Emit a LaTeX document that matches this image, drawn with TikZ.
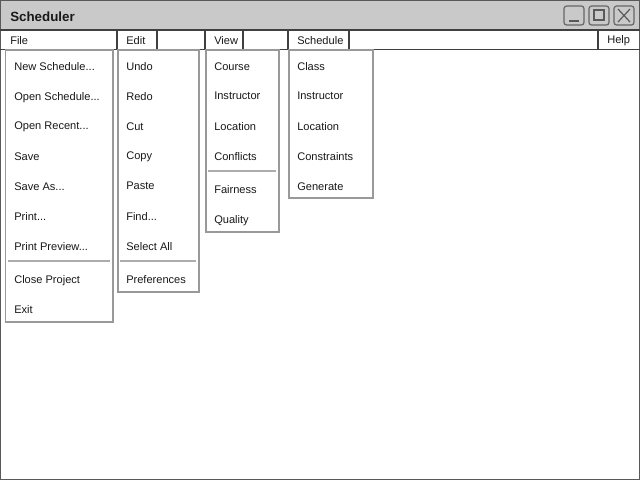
\documentclass[tikz,border=0pt]{standalone}
\usepackage{fontspec}
\setmainfont{Liberation Sans}
\begin{document}
\begin{tikzpicture}[x=0.75pt,y=-0.75pt,
  item/.style={anchor=west, inner sep=0pt, yshift=-0.9pt, font=\fontsize{8.3pt}{10pt}\selectfont, text=black!90},
  titletext/.style={anchor=west, inner sep=0pt, yshift=-0.6pt, font=\bfseries\fontsize{10pt}{12pt}\selectfont, text=black!90},
  menubox/.style={draw=gray!80, line width=1.1pt, fill=white},
  sep/.style={draw=gray!65, line width=1.2pt},
  barline/.style={draw=black!75, line width=0.8pt},
  winbtn/.style={draw=gray!80!black, line width=0.9pt, rounded corners=2pt},
  icon/.style={draw=gray!70!black, line width=0.9pt}]
\useasboundingbox (0,0) rectangle (640,480);
% window
\draw[draw=gray!70!black, line width=0.9pt, fill=white] (0.5,0.5) rectangle (639.5,479.5);
\fill[gray!42] (1,1) rectangle (639,30);
\node[titletext] (title) at (10,16) {Scheduler};
% window buttons
\draw[winbtn] (564,6) rectangle (584,25);
\draw[icon] (569,21) -- (579,21);
\draw[winbtn] (589,6) rectangle (609,25);
\draw[icon] (594,10) rectangle (604,20);
\draw[winbtn] (614,6) rectangle (634,25);
\draw[icon] (618,9) -- (630,22) (630,9) -- (618,22);
% menu bar
\fill[white] (1,30) rectangle (639,49);
\draw[barline] (0,30) -- (640,30);
\draw[barline] (0,49.5) -- (640,49.5);
\foreach \x in {117,157,205,243,288,349,598} \draw[barline] (\x,30) -- (\x,49.5);
\node[item] (mfile) at (10,39.5) {File};
\node[item] (medit) at (126,39.5) {Edit};
\node[item] (mview) at (214,39.5) {View};
\node[item] (msched) at (297,39.5) {Schedule};
\node[item] (mhelp) at (607,39.5) {Help};
% File menu
\draw[menubox] (5.5,50) rectangle (113,322);
\node[item] (f1) at (14,65) {New Schedule...};
\node[item] (f2) at (14,96) {Open Schedule...};
\node[item] (f3) at (14,126) {Open Recent...};
\node[item] (f4) at (14,155) {Save};
\node[item] (f5) at (14,185) {Save As...};
\node[item] (f6) at (14,215) {Print...};
\node[item] (f7) at (14,245) {Print Preview...};
\draw[sep] (8,261) -- (110,261);
\node[item] (f8) at (14,279) {Close Project};
\node[item] (f9) at (14,308) {Exit};
% Edit menu
\draw[menubox] (118,50) rectangle (199,292);
\node[item] (e1) at (126,65) {Undo};
\node[item] (e2) at (126,95) {Redo};
\node[item] (e3) at (126,125) {Cut};
\node[item] (e4) at (126,156) {Copy};
\node[item] (e5) at (126,185) {Paste};
\node[item] (e6) at (126,215) {Find...};
\node[item] (e7) at (126,245) {Select All};
\draw[sep] (120,261) -- (196,261);
\node[item] (e8) at (126,278) {Preferences};
% View menu
\draw[menubox] (206,50) rectangle (279,232);
\node[item] (v1) at (214,65) {Course};
\node[item] (v2) at (214,95) {Instructor};
\node[item] (v3) at (214,125) {Location};
\node[item] (v4) at (214,155) {Conflicts};
\draw[sep] (208,171) -- (276,171);
\node[item] (v5) at (214,188) {Fairness};
\node[item] (v6) at (214,219) {Quality};
% Schedule menu
\draw[menubox] (289,50) rectangle (373,198);
\node[item] (s1) at (297,65) {Class};
\node[item] (s2) at (297,95) {Instructor};
\node[item] (s3) at (297,125) {Location};
\node[item] (s4) at (297,155) {Constraints};
\node[item] (s5) at (297,185) {Generate};
\end{tikzpicture}
\end{document}
